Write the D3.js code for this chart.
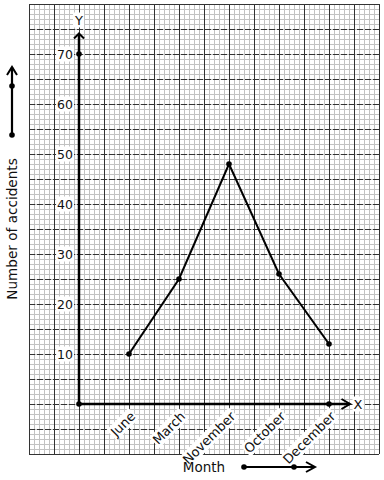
<!DOCTYPE html>
<html><head><meta charset="utf-8">
<script src="https://cdnjs.cloudflare.com/ajax/libs/d3/7.8.5/d3.min.js"></script>
<style>body{margin:0;background:#fff}svg{display:block}text{font-family:"DejaVu Sans",sans-serif;fill:#111}</style>
</head><body><svg id="c" width="384" height="480"></svg>
<script>
const categories = ["June","March","November","October","December"];
const values = [10,25,48,26,12];
const yTicks = [10,20,30,40,50,60,70];
const xTitle = "Month";
const yTitle = "Number of accidents";

const svg = d3.select("#c");
// grid scales (graph-paper units)
const gx = d3.scaleLinear().domain([-1,6]).range([29,379]);
const y = d3.scaleLinear().domain([-10,80]).range([454,4]);
const x = d3.scalePoint().domain(categories).range([gx(1),gx(5)]);
const x0 = gx(0), y0 = y(0);

const grid = svg.append("g");
// minor
d3.range(-1,6.0001,0.1).forEach(v=>{
  grid.append("line").attr("x1",Math.round(gx(v))+0.5).attr("x2",Math.round(gx(v))+0.5)
   .attr("y1",y(80)).attr("y2",y(-10)).attr("stroke","#c2c2c2").attr("stroke-width",1);
});
d3.range(-10,80.0001,1).forEach(v=>{
  grid.append("line").attr("y1",Math.round(y(v))+0.5).attr("y2",Math.round(y(v))+0.5)
   .attr("x1",gx(-1)).attr("x2",gx(6)).attr("stroke","#c2c2c2").attr("stroke-width",1);
});
// major horizontals dashed
d3.range(-10,80.0001,5).forEach(v=>{
  grid.append("line").attr("y1",Math.round(y(v))+0.5).attr("y2",Math.round(y(v))+0.5)
   .attr("x1",gx(-1)).attr("x2",gx(6)).attr("stroke","#333").attr("stroke-width",1)
   .attr("stroke-dasharray",(v===80||v===-10)?null:"6,2");
});
// major verticals solid
d3.range(-1,6.0001,0.5).forEach(v=>{
  grid.append("line").attr("x1",Math.round(gx(v))+0.5).attr("x2",Math.round(gx(v))+0.5)
   .attr("y1",y(80)).attr("y2",y(-10)).attr("stroke","#333").attr("stroke-width",1);
});

function chevron(g,pts){
  g.append("polyline").attr("points",pts.map(p=>p.join(",")).join(" "))
   .attr("fill","none").attr("stroke","#000").attr("stroke-width",2);
}
function dot(g,cx,cy){g.append("circle").attr("cx",cx).attr("cy",cy).attr("r",2.8).attr("fill","#000");}
function labelBg(g,sel){
  const b = sel.node().getBBox();
  g.insert("rect","text").attr("x",b.x-1).attr("y",b.y).attr("width",b.width+2).attr("height",b.height).attr("fill","#fff");
}

const ax = svg.append("g");
// Y axis
ax.append("line").attr("x1",x0).attr("x2",x0).attr("y1",y0).attr("y2",y(74)).attr("stroke","#000").attr("stroke-width",2.5);
chevron(ax,[[x0-5,y(73.1)],[x0,y(74.1)],[x0+5,y(73.1)]]);
// X axis
ax.append("line").attr("x1",x0).attr("x2",gx(5.42)).attr("y1",y0).attr("y2",y0).attr("stroke","#000").attr("stroke-width",2.5);
chevron(ax,[[gx(5.25),y0-5],[gx(5.42),y0],[gx(5.25),y0+5]]);

// axis letter labels
{const g=ax.append("g");const t=g.append("text").attr("x",x0).attr("y",y(76.8)).attr("text-anchor","middle").attr("dominant-baseline","central").attr("font-size",13).text("Y");labelBg(g,t);}
{const g=ax.append("g");const t=g.append("text").attr("x",gx(5.58)).attr("y",y0).attr("text-anchor","middle").attr("dominant-baseline","central").attr("font-size",13).text("X");labelBg(g,t);}

// y tick labels
yTicks.forEach(v=>{
  const g=ax.append("g");
  const t=g.append("text").attr("x",x0-6).attr("y",y(v)).attr("text-anchor","end").attr("dominant-baseline","central").attr("font-size",12.5).text(v);
  labelBg(g,t);
});
// x tick labels
categories.forEach(c=>{
  const g=ax.append("g").attr("transform",`translate(${x(c)+4},${y0+10}) rotate(-45)`);
  const t=g.append("text").attr("x",0).attr("y",0).attr("text-anchor","end").attr("dominant-baseline","central").attr("font-size",13).text(c);
  labelBg(g,t);
});

// data line
const line = d3.line().x((d,i)=>x(categories[i])).y(d=>y(d));
svg.append("path").datum(values).attr("d",line).attr("fill","none").attr("stroke","#000").attr("stroke-width",2);
values.forEach((v,i)=>dot(svg,x(categories[i]),y(v)));
dot(svg,x0,y0); dot(svg,x0,y(70)); dot(svg,x(categories[4]),y0);

// y title with arrow
svg.append("text").attr("transform",`translate(12,${y(35)}) rotate(-90)`).attr("text-anchor","middle")
  .attr("dominant-baseline","central").attr("font-size",13.6).text(yTitle);
const la=svg.append("g");
la.append("line").attr("x1",12).attr("x2",12).attr("y1",y(53.8)).attr("y2",y(67.4)).attr("stroke","#000").attr("stroke-width",2.2);
chevron(la,[[7,y(65.8)],[12,y(67.4)],[17,y(65.8)]]);
dot(la,12,y(53.8)); dot(la,12,y(63.6));

// x title with arrow
svg.append("text").attr("x",204).attr("y",467).attr("text-anchor","middle").attr("dominant-baseline","central").attr("font-size",13.5).text(xTitle);
const ba=svg.append("g");
ba.append("line").attr("x1",244).attr("x2",315).attr("y1",467).attr("y2",467).attr("stroke","#000").attr("stroke-width",2.2);
chevron(ba,[[306,462],[315,467],[306,472]]);
dot(ba,244,467); dot(ba,294,467);
</script></body></html>
